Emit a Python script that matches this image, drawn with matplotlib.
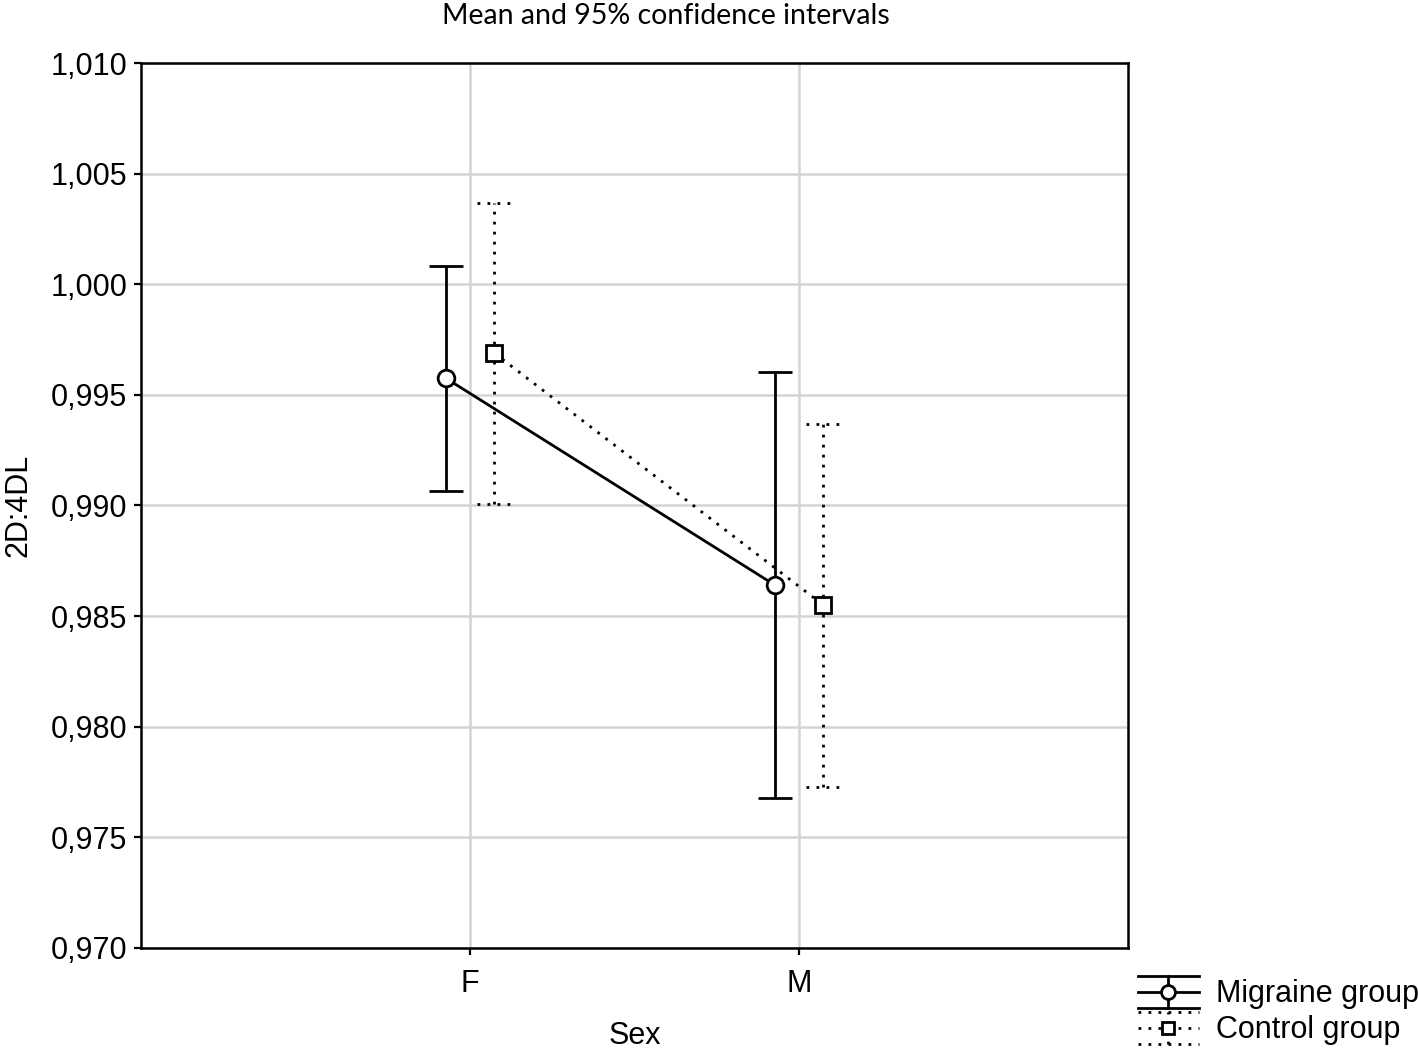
import numpy as np
import matplotlib
matplotlib.use("Agg")
import matplotlib.pyplot as plt
from matplotlib.legend_handler import HandlerBase
from matplotlib.lines import Line2D

plt.rcParams['font.family'] = ['Liberation Sans', 'DejaVu Sans']

# data
sexes = ["F", "M"]
groups = ["Migraine group", "Control group"]
mig_mean = [0.99576, 0.98641]
mig_low = [0.99066, 0.97678]
mig_high = [1.00083, 0.99603]
ctl_mean = [0.99689, 0.98550]
ctl_low = [0.99007, 0.97728]
ctl_high = [1.00367, 0.99368]
y_ticks = [0.970, 0.975, 0.980, 0.985, 0.990, 0.995, 1.000, 1.005, 1.010]

lw = 2.0
dotted = (0, (1, 2.6))
cap = 0.052
shift = 0.074

class ErrGlyph(HandlerBase):
    def __init__(self, ls, marker, ms):
        super().__init__()
        self.ls, self.marker, self.ms = ls, marker, ms

    def create_artists(self, legend, orig, xd, yd, w, h, fs, trans):
        cx = xd + w / 2
        cy = yd + h / 2
        top = cy + 0.75 * h
        bot = cy - 0.75 * h
        arts = []
        for yy in (top, cy, bot):
            arts.append(Line2D([xd, xd + w], [yy, yy], color='black', lw=lw, ls=self.ls))
        arts.append(Line2D([cx, cx], [bot, top], color='black', lw=lw, ls=self.ls))
        arts.append(Line2D([cx], [cy], marker=self.marker, ms=self.ms, mfc='white',
                           mec='black', mew=lw, ls='none'))
        for a in arts:
            a.set_transform(trans)
        return arts

fig = plt.figure(figsize=(14.18, 10.54), dpi=100)
ax = fig.add_axes([0.0994, 0.1006, 0.6961, 0.8396])

x = np.arange(1, len(sexes) + 1)
xm = x - shift
xc = x + shift

# migraine group: solid
ax.vlines(xm, mig_low, mig_high, color='black', lw=lw, zorder=3)
ax.hlines(mig_low, xm - cap, xm + cap, color='black', lw=lw, zorder=3)
ax.hlines(mig_high, xm - cap, xm + cap, color='black', lw=lw, zorder=3)
ax.plot(xm, mig_mean, color='black', lw=lw, marker='o', ms=12, mfc='white',
        mec='black', mew=lw, zorder=4)

# control group: dotted
ax.vlines(xc, ctl_low, ctl_high, color='black', lw=lw, linestyles=[dotted], zorder=3)
ax.hlines(ctl_low, xc - cap, xc + cap, color='black', lw=lw, linestyles=[dotted], zorder=3)
ax.hlines(ctl_high, xc - cap, xc + cap, color='black', lw=lw, linestyles=[dotted], zorder=3)
ax.plot(xc, ctl_mean, color='black', lw=lw, ls=dotted, marker='s', ms=11, mfc='white',
        mec='black', mew=lw, zorder=4)

ax.set_xlim(0, len(sexes) + 1)
ax.set_ylim(y_ticks[0], y_ticks[-1])
ax.set_xticks(x)
ax.set_xticklabels(sexes)
ax.set_yticks(y_ticks)
ax.set_yticklabels([f"{v:.3f}".replace('.', ',') for v in y_ticks])
ax.grid(True, color='#d4d4d4', lw=1.8)
ax.set_axisbelow(True)
for s in ax.spines.values():
    s.set_linewidth(1.8)
ax.tick_params(axis='y', direction='out', length=5, width=1.6, labelsize=22, pad=5)
ax.tick_params(axis='x', direction='out', length=5, width=1.6, labelsize=22, pad=10)

ax.set_xlabel("Sex", fontsize=22, labelpad=16)
ax.set_ylabel("2D:4DL", fontsize=22, labelpad=12)
ax.set_title("Mean and 95% confidence intervals", fontsize=20.5, family=['Lato', 'DejaVu Sans'],
             x=0.532, pad=28)

h1 = Line2D([], [])
h2 = Line2D([], [])
fig.legend([h1, h2], groups, loc='lower right', bbox_to_anchor=(1.02, -0.018),
           frameon=False, fontsize=22, handlelength=2.0, handletextpad=0.55,
           labelspacing=0.2,
           handler_map={h1: ErrGlyph('-', 'o', 10), h2: ErrGlyph(dotted, 's', 8)})

fig.savefig("out.png", dpi=100)
